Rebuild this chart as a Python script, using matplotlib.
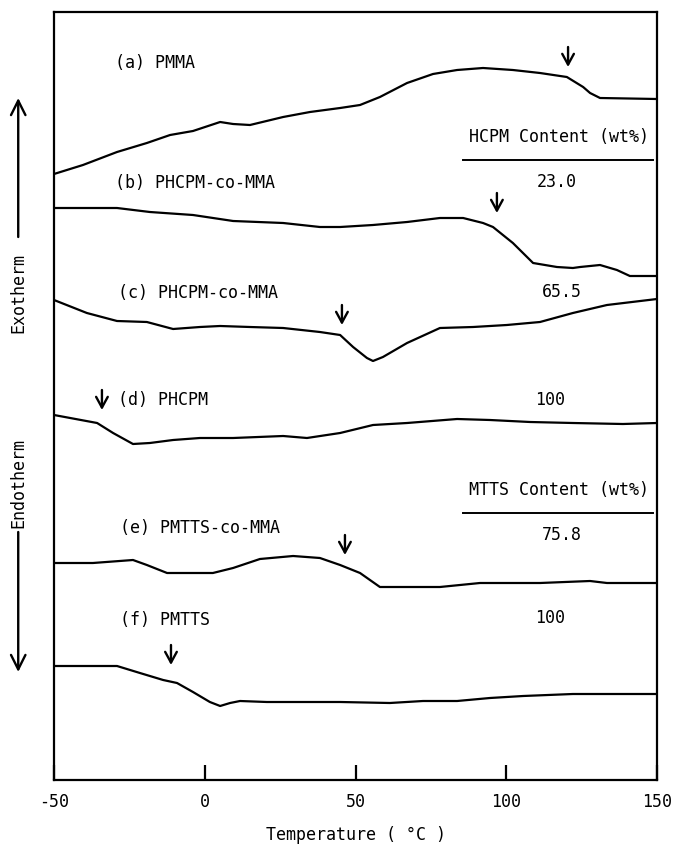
import matplotlib
matplotlib.use("Agg")
import matplotlib.pyplot as plt

# DSC traces, temperature in degC, heat flow in arbitrary units (stacked)
t_a = [-50, -40.4, -29.1, -19.2, -11.5, -3.9, 5.1, 9.4, 15.0, 26.0, 34.9, 44.9,
       51.5, 58.1, 67.1, 75.7, 83.7, 92.3, 102.2, 111.2, 120.1, 125.5, 127.8, 131.1, 150]
q_a = [606, 615, 628, 637, 645, 649, 658, 656, 655, 663, 668, 672,
       675, 683, 697, 706, 710, 712, 710, 707, 703, 693, 687, 682, 681]

t_b = [-50, -29.1, -18.2, -3.9, 9.4, 26.0, 38.2, 44.9, 55.8, 67.1, 78.0, 85.7,
       92.3, 95.6, 102.2, 108.9, 116.8, 122.1, 124.5, 131.1, 136.7, 141.0, 150]
q_b = [572, 572, 568, 565, 559, 557, 553, 553, 555, 558, 562, 562,
       557, 553, 537, 517, 513, 512, 513, 515, 510, 504, 504]

t_c = [-50, -39.1, -29.1, -19.2, -10.5, -1.6, 5.1, 15.0, 26.0, 38.2, 44.9, 49.2,
       53.8, 55.8, 59.1, 67.1, 78.0, 89.0, 100.2, 111.2, 122.1, 133.4, 150]
q_c = [480, 467, 459, 458, 451, 453, 454, 453, 452, 448, 445, 433,
       422, 419, 423, 437, 452, 453, 455, 458, 467, 475, 481]

t_d = [-50, -35.7, -30.4, -23.8, -18.2, -10.5, -1.6, 9.4, 26.0, 33.9, 44.9, 55.8,
       67.1, 83.7, 94.6, 107.9, 122.1, 138.7, 150]
q_d = [365, 357, 347, 336, 337, 340, 342, 342, 344, 342, 347, 355,
       357, 361, 360, 358, 357, 356, 357]

t_e = [-50, -37.1, -23.8, -19.2, -12.5, -5.9, 2.7, 9.4, 18.3, 29.3, 38.2, 44.9,
       51.5, 58.1, 67.1, 78.0, 91.3, 111.2, 127.8, 133.4, 150]
q_e = [217, 217, 220, 215, 207, 207, 207, 212, 221, 224, 222, 215,
       207, 193, 193, 193, 197, 197, 199, 197, 197]

t_f = [-50, -29.1, -21.5, -13.8, -9.2, -3.9, 1.7, 5.1, 8.4, 11.7, 20.6, 31.6,
       44.9, 61.4, 72.4, 83.7, 94.6, 105.6, 122.1, 150]
q_f = [114, 114, 107, 100, 97, 88, 78, 74, 77, 79, 78, 78,
       78, 77, 79, 79, 82, 84, 86, 86]

# Glass transition markers (temperature, level of arrow tip)
tg_temps = [120.5, 96.9, 45.5, -34.1, 46.5, -11.2]
tg_levels = [713, 567, 455, 370, 225, 115]

sample_names = ["(a) PMMA", "(b) PHCPM-co-MMA", "(c) PHCPM-co-MMA",
                "(d) PHCPM", "(e) PMTTS-co-MMA", "(f) PMTTS"]
name_pos = [(-29.8, 717), (-29.8, 597), (-28.8, 487),
            (-28.8, 380), (-28.1, 252), (-28.1, 160)]
contents = ["", "23.0", "65.5", "100", "75.8", "100"]
content_pos = [(0, 0), (116.8, 598), (118.5, 488), (114.5, 380), (118.5, 245), (114.5, 162)]

x_ticks = [-50, 0, 50, 100, 150]

FONT = "DejaVu Sans Mono"
FS = 12

fig = plt.figure(figsize=(6.75, 8.46), dpi=100)
ax = fig.add_axes([54 / 675, 66 / 846, 603 / 675, 768 / 846])

for t, q in [(t_a, q_a), (t_b, q_b), (t_c, q_c), (t_d, q_d), (t_e, q_e), (t_f, q_f)]:
    ax.plot(t, q, color="black", lw=1.6, solid_joinstyle="round", solid_capstyle="round")

for tg, lvl in zip(tg_temps, tg_levels):
    ax.annotate("", xy=(tg, lvl), xytext=(tg, lvl + 20),
                arrowprops=dict(arrowstyle="->,head_length=0.55,head_width=0.3",
                                color="black", lw=1.7, shrinkA=0, shrinkB=0,
                                mutation_scale=14))

for name, (x, y) in zip(sample_names, name_pos):
    ax.text(x, y, name, fontsize=FS, family=FONT, ha="left", va="center")
for c, (x, y) in zip(contents, content_pos):
    if c:
        ax.text(x, y, c, fontsize=FS, family=FONT, ha="center", va="center")

# Column headers for comonomer content
for header, y in [("HCPM Content (wt%)", 643), ("MTTS Content (wt%)", 290)]:
    ax.text(117.5, y, header, fontsize=FS, family=FONT, ha="center", va="center")
    ax.plot([85.7, 148.7], [y - 23, y - 23], color="black", lw=1.4)

ax.set_xlim(-50, 150)
ax.set_ylim(0, 768)
ax.set_xticks(x_ticks)
ax.set_xticklabels([str(v) for v in x_ticks], family=FONT, fontsize=FS)
ax.set_yticks([])
ax.tick_params(axis="x", direction="in", length=11, width=1.6, pad=9)
for s in ax.spines.values():
    s.set_linewidth(1.6)
ax.set_xlabel("Temperature ( \u00b0C )", family=FONT, fontsize=FS, labelpad=11)

# Exotherm / Endotherm direction indicators
fig.text(0.027, 1 - 293 / 846, "Exotherm", rotation=90, family=FONT, fontsize=FS,
         ha="center", va="center")
fig.text(0.027, 1 - 483 / 846, "Endotherm", rotation=90, family=FONT, fontsize=FS,
         ha="center", va="center")
arrow_kw = dict(arrowstyle="->,head_length=0.8,head_width=0.4", color="black", lw=1.7,
                shrinkA=0, shrinkB=0)
fig.add_artist(matplotlib.patches.FancyArrowPatch(
    (0.027, 1 - 237 / 846), (0.027, 1 - 98 / 846), transform=fig.transFigure,
    mutation_scale=13, **arrow_kw))
fig.add_artist(matplotlib.patches.FancyArrowPatch(
    (0.027, 1 - 532 / 846), (0.027, 1 - 672 / 846), transform=fig.transFigure,
    mutation_scale=13, **arrow_kw))

fig.savefig("out.png", dpi=100)
